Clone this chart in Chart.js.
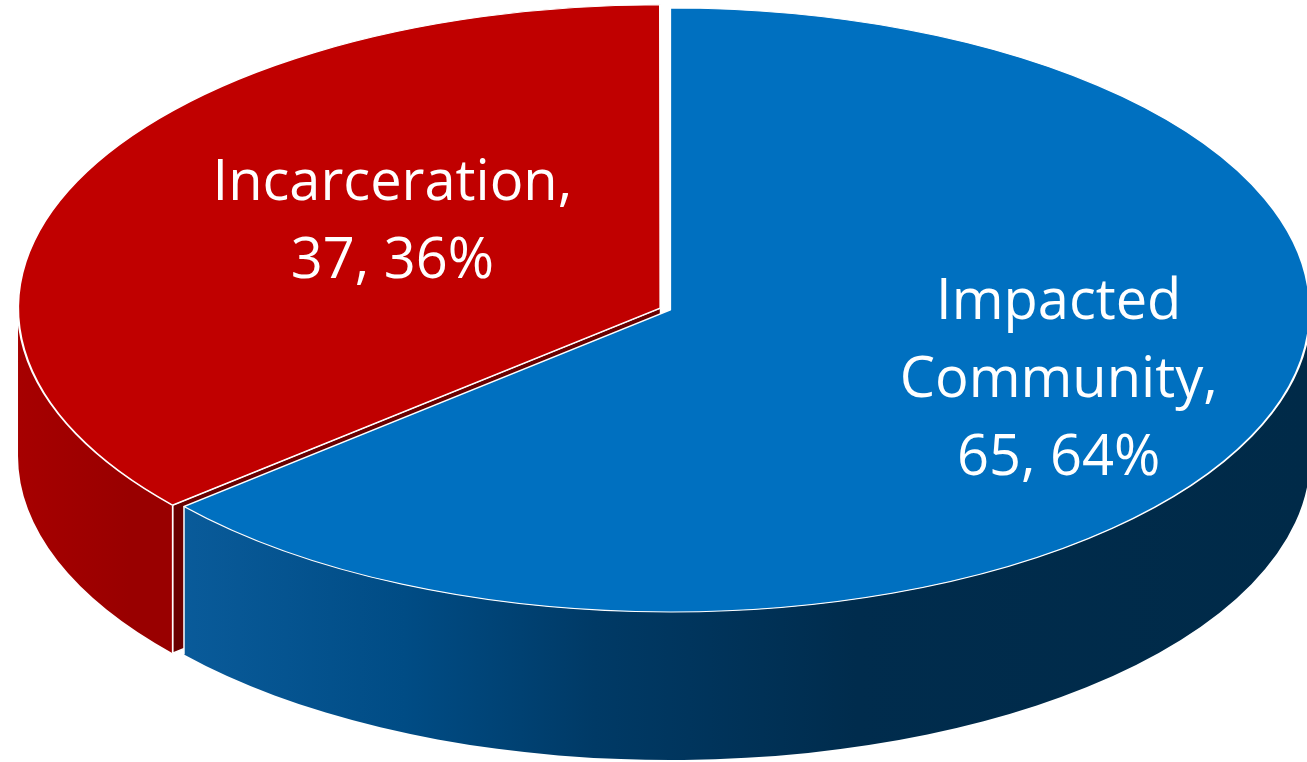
<!DOCTYPE html>
<html>
<head>
<meta charset="utf-8">
<script src="https://cdn.jsdelivr.net/npm/chart.js@4"></script>
<style>
  html, body { margin: 0; padding: 0; background: #fff; }
  #wrap { width: 1307px; height: 762px; position: relative; }
</style>
</head>
<body>
<div id="wrap"><canvas id="pieChart"></canvas></div>
<script>
const categories = ['Impacted Community', 'Incarceration'];
const counts = [65, 37];

const topColors = ['#0070c0', '#c00000'];
const cutColors = ['#00325a', '#6a0000'];
const explode = [0, 24];

// the flat pie gets squashed into this ellipse, walls hang below it
const tilt = { cx: 670, cy: 310, rx: 640, ry: 302, depth: 148 };
const labelNudge = [[98, 4], [32, -24]];

const total = counts.reduce((a, b) => a + b, 0);

function view(chart) {
    const arc = chart.getDatasetMeta(0).data[0];
    return { x: arc.x, y: arc.y, sx: tilt.rx / arc.outerRadius, sy: tilt.ry / arc.outerRadius };
}

function toScreen(v, px, py) {
    return [tilt.cx + (px - v.x) * v.sx, tilt.cy + (py - v.y) * v.sy];
}

// same shift/grow that ArcElement applies for options.offset
function arcGeom(arc, v) {
    const half = (arc.startAngle + arc.endAngle) / 2;
    const off = (arc.options.offset || 0) / 4;
    const fix = 1 - Math.sin(Math.min(Math.PI, arc.circumference));
    const r = arc.outerRadius + off * fix;
    const c = toScreen(v, arc.x + Math.cos(half) * off, arc.y + Math.sin(half) * off);
    return { cx: c[0], cy: c[1], rx: r * v.sx, ry: r * v.sy };
}

function wallFill(ctx, i) {
    if (i === 0) {
        const g = ctx.createLinearGradient(120, 0, 1307, 0);
        g.addColorStop(0, '#0c5fa0');
        g.addColorStop(0.24, '#004c85');
        g.addColorStop(0.4, '#003a66');
        g.addColorStop(0.62, '#002c4d');
        g.addColorStop(1, '#002a48');
        return g;
    }
    const g = ctx.createLinearGradient(20, 0, 130, 0);
    g.addColorStop(0, '#a60000');
    g.addColorStop(1, '#990000');
    return g;
}

function rimLine(ctx, g, a) {
    const x = g.cx + g.rx * Math.cos(a), y = g.cy + g.ry * Math.sin(a);
    ctx.beginPath();
    ctx.moveTo(x, y);
    ctx.lineTo(x, y + tilt.depth);
    ctx.stroke();
}

const tiltPlugin = {
    id: 'tilt',
    beforeDatasetsDraw(chart) {
        const ctx = chart.ctx;
        const v = view(chart);
        const arcs = chart.getDatasetMeta(0).data;
        const D = tilt.depth;
        ctx.save();
        ctx.strokeStyle = '#ffffff';
        ctx.lineWidth = 1.5;
        for (let i = arcs.length - 1; i >= 0; i--) {
            const arc = arcs[i];
            const g = arcGeom(arc, v);
            // radial cut faces turned towards the viewer
            [[arc.startAngle, 1], [arc.endAngle, -1]].forEach(([a, side]) => {
                if (side * -Math.cos(a) <= 1e-6) return;
                const x = g.cx + g.rx * Math.cos(a), y = g.cy + g.ry * Math.sin(a);
                ctx.beginPath();
                ctx.moveTo(g.cx, g.cy);
                ctx.lineTo(x, y);
                ctx.lineTo(x, y + D);
                ctx.lineTo(g.cx, g.cy + D);
                ctx.closePath();
                ctx.fillStyle = cutColors[i];
                ctx.fill();
                ctx.stroke();
            });
            // outer wall on the front half
            for (let k = -1; k <= 1; k++) {
                const s = Math.max(arc.startAngle, 2 * Math.PI * k);
                const e = Math.min(arc.endAngle, 2 * Math.PI * k + Math.PI);
                if (e <= s) continue;
                ctx.beginPath();
                ctx.ellipse(g.cx, g.cy, g.rx, g.ry, 0, s, e);
                ctx.ellipse(g.cx, g.cy + D, g.rx, g.ry, 0, e, s, true);
                ctx.closePath();
                ctx.fillStyle = wallFill(ctx, i);
                ctx.fill();
                if (s === arc.startAngle) rimLine(ctx, g, s);
                if (e === arc.endAngle) rimLine(ctx, g, e);
            }
        }
        // squash the flat pie into the top ellipse
        ctx.translate(tilt.cx, tilt.cy);
        ctx.scale(v.sx, v.sy);
        ctx.translate(-v.x, -v.y);
    },
    afterDatasetsDraw(chart) {
        const ctx = chart.ctx;
        ctx.restore();
        const v = view(chart);
        const arcs = chart.getDatasetMeta(0).data;
        ctx.save();
        ctx.fillStyle = '#ffffff';
        ctx.font = '56px "Open Sans"';
        ctx.textAlign = 'center';
        ctx.textBaseline = 'alphabetic';
        arcs.forEach((arc, i) => {
            const p = arc.getCenterPoint();
            const c = toScreen(v, p.x, p.y);
            const words = categories[i].split(' ');
            words[words.length - 1] += ',';
            const lines = words.concat([counts[i] + ', ' + Math.round(counts[i] / total * 100) + '%']);
            const step = 78;
            const x = c[0] + labelNudge[i][0];
            const top = c[1] + labelNudge[i][1] - (lines.length - 1) * step / 2 + 20;
            lines.forEach((t, j) => ctx.fillText(t, x, top + j * step));
        });
        ctx.restore();
    }
};

new Chart(document.getElementById('pieChart'), {
    type: 'pie',
    data: {
        labels: categories,
        datasets: [{
            data: counts,
            backgroundColor: topColors,
            borderColor: '#ffffff',
            borderWidth: 1.3,
            offset: explode,
            clip: false
        }]
    },
    options: {
        responsive: true,
        maintainAspectRatio: false,
        animation: false,
        events: [],
        layout: { padding: 0 },
        plugins: {
            legend: { display: false },
            tooltip: { enabled: false }
        }
    },
    plugins: [tiltPlugin]
});
</script>
</body>
</html>
